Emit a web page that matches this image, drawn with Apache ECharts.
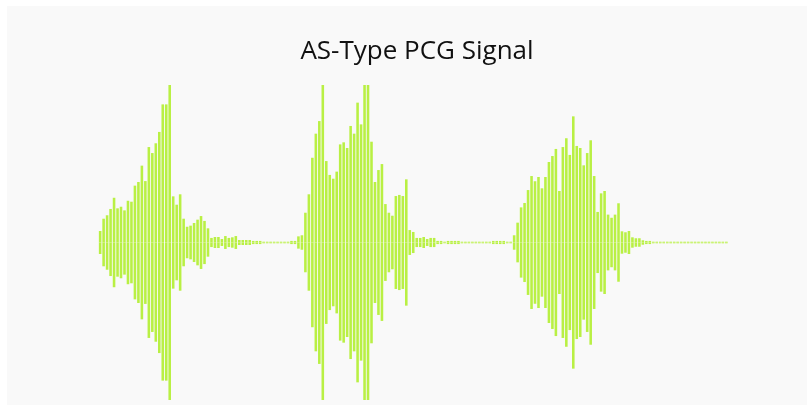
<!DOCTYPE html>
<html>
<head>
<meta charset="utf-8">
<script src="https://cdn.jsdelivr.net/npm/echarts@6/dist/echarts.min.js"></script>
<style>
  html, body { margin: 0; padding: 0; background: #ffffff; overflow: hidden; }
  #main { position: absolute; left: 7px; top: 6px; width: 800px; height: 399px; background: #f9f9f9; }
</style>
</head>
<body>
<div id="main"></div>
<script>
// Amplitude envelope per sample (normalized, peak = 1)
const amplitudeS1 = [
  0.073, 0.151, 0.173, 0.213, 0.284, 0.217, 0.227, 0.204, 0.265, 0.259,
  0.361, 0.384, 0.488, 0.390, 0.606, 0.568, 0.630, 0.702, 0.877, 0.877,
  1.000, 0.293, 0.240, 0.306, 0.151, 0.100, 0.107, 0.124, 0.145, 0.168,
  0.137, 0.090, 0.029, 0.035, 0.035, 0.022, 0.041, 0.029, 0.033, 0.041,
  0.016, 0.016, 0.016, 0.016, 0.010, 0.010, 0.010, 0.005, 0.005, 0.005,
  0.005, 0.005, 0.005, 0.005, 0.005, 0.010, 0.010, 0.039, 0.046
];
const amplitudeS2 = [
  0.189, 0.306, 0.538, 0.691, 0.771, 1.000, 0.517, 0.429, 0.405, 0.450,
  0.623, 0.636, 0.600, 0.740, 0.691, 0.888, 0.750, 1.000, 1.000, 0.640,
  0.384, 0.460, 0.498, 0.244, 0.189, 0.170, 0.295, 0.302, 0.295, 0.401,
  0.079, 0.067, 0.029, 0.029, 0.035, 0.022, 0.029, 0.029, 0.010, 0.010,
  0.005, 0.010, 0.010, 0.010, 0.010, 0.005, 0.005, 0.005, 0.005, 0.005,
  0.005, 0.005, 0.005, 0.005, 0.010, 0.010, 0.010, 0.010, 0.005, 0.005
];
const amplitudeS3 = [
  0.046, 0.126, 0.223, 0.251, 0.333, 0.422, 0.389, 0.416, 0.344, 0.416,
  0.511, 0.549, 0.594, 0.327, 0.606, 0.662, 0.556, 0.801, 0.613, 0.600,
  0.490, 0.568, 0.649, 0.422, 0.194, 0.312, 0.327, 0.177, 0.157, 0.177,
  0.249, 0.071, 0.065, 0.073, 0.033, 0.027, 0.027, 0.014, 0.010, 0.010,
  0.005, 0.005, 0.005, 0.005, 0.005, 0.005, 0.005, 0.005, 0.005, 0.005,
  0.005, 0.005, 0.005, 0.005, 0.005, 0.005, 0.005, 0.005, 0.005, 0.005,
  0.005, 0.005
];
const titleText = 'AS-Type PCG Signal';

const amplitude = amplitudeS1.concat(amplitudeS2, amplitudeS3);
const samples = amplitude.map((_, i) => String(i + 1));
const upper = amplitude.slice();
const lower = amplitude.map(v => -v);

const chart = echarts.init(document.getElementById('main'), null, { renderer: 'canvas' });
const barColor = '#b9f044';
chart.setOption({
  animation: false,
  backgroundColor: 'transparent',
  title: {
    text: titleText,
    left: 405,
    textAlign: 'center',
    top: 28,
    textStyle: { fontFamily: 'Open Sans', fontSize: 26, fontWeight: 'normal', color: '#111111' }
  },
  grid: { left: 91.4, right: 78.9, top: 79, bottom: 5, containLabel: false },
  xAxis: {
    type: 'category',
    data: samples,
    show: false,
    boundaryGap: true
  },
  yAxis: {
    type: 'value',
    min: -1,
    max: 1,
    show: false
  },
  series: [
    {
      type: 'bar', stack: 'sig', data: upper, barWidth: '74%',
      itemStyle: { color: barColor }, silent: true
    },
    {
      type: 'bar', stack: 'sig', data: lower, barWidth: '74%',
      itemStyle: { color: barColor }, silent: true
    }
  ]
});
</script>
</body>
</html>
